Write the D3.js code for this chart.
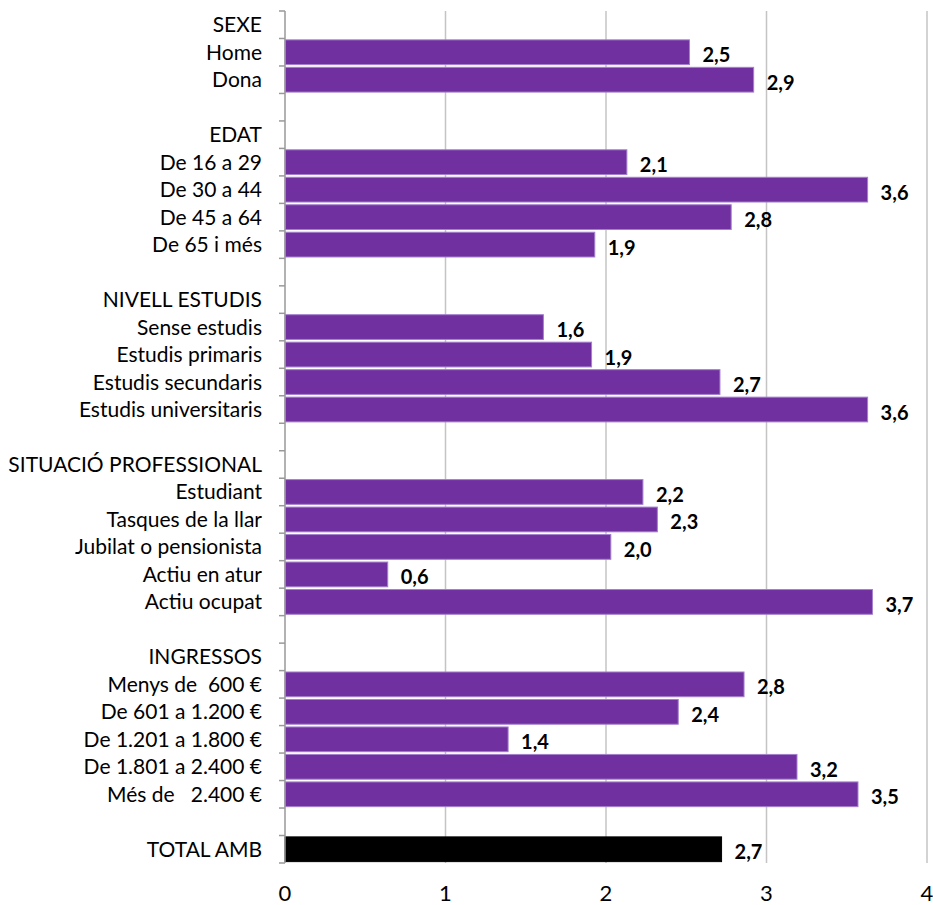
<!DOCTYPE html>
<html><head><meta charset="utf-8">
<script src="https://cdn.jsdelivr.net/npm/d3@7"></script>
<style>
html,body{margin:0;padding:0;background:#fff;}
svg{display:block;}
text{font-family:Lato,"Open Sans",sans-serif;white-space:pre;}
</style></head>
<body>
<svg id="chart" width="933" height="905"></svg>
<script>
const categories = ["SEXE","Home","Dona","","EDAT","De 16 a 29","De 30 a 44","De 45 a 64","De 65 i més","",
 "NIVELL ESTUDIS","Sense estudis","Estudis primaris","Estudis secundaris","Estudis universitaris","",
 "SITUACIÓ PROFESSIONAL","Estudiant","Tasques de la llar","Jubilat o pensionista","Actiu en atur","Actiu ocupat","",
 "INGRESSOS","Menys de  600 €","De 601 a 1.200 €","De 1.201 a 1.800 €","De 1.801 a 2.400 €","Més de   2.400 €","",
 "TOTAL AMB"];
const values = [null,2.52,2.92,null,null,2.13,3.63,2.78,1.93,null,
 null,1.61,1.91,2.71,3.63,null,
 null,2.23,2.32,2.03,0.64,3.66,null,
 null,2.86,2.45,1.39,3.19,3.57,null,
 2.72];
const valueLabels = ["","2,5","2,9","","","2,1","3,6","2,8","1,9","",
 "","1,6","1,9","2,7","3,6","",
 "","2,2","2,3","2,0","0,6","3,7","",
 "","2,8","2,4","1,4","3,2","3,5","",
 "2,7"];
const xTicks = [0,1,2,3,4];
const totalIndex = 30;

(function(){
const svg = d3.select("#chart");
const pL = 285, pR = 927, pT = 11, pB = 863;
const x = d3.scaleLinear().domain([0,4]).range([pL,pR]);
const y = d3.scaleBand().domain(d3.range(categories.length)).range([pT,pB]).paddingInner(0.1).paddingOuter(0.05);

svg.append("g").selectAll("line").data(xTicks.filter(d=>d>0)).join("line")
  .attr("x1",d=>x(d)).attr("x2",d=>x(d)).attr("y1",pT).attr("y2",pB)
  .attr("stroke","#c4c4c4").attr("stroke-width",1.5);

const rows = categories.map((c,i)=>({c,i,v:values[i],l:valueLabels[i]}));
svg.append("g").selectAll("rect").data(rows.filter(d=>d.v!==null)).join("rect")
  .attr("x",x(0)).attr("y",d=>y(d.i)).attr("width",d=>x(d.v)-x(0)).attr("height",y.bandwidth())
  .attr("fill",d=>d.i===totalIndex?"#000":"#7030a0")
  .attr("stroke",d=>d.i===totalIndex?"#000":"#a47fcc").attr("stroke-width",1);

svg.append("g").selectAll("text").data(rows.filter(d=>d.v!==null)).join("text")
  .attr("x",d=>x(d.v)+13).attr("y",d=>y(d.i)+y.bandwidth()/2+10)
  .attr("font-size",20).attr("font-weight","bold").attr("fill","#000").text(d=>d.l);

const bounds = d3.range(categories.length+1).map(i=>pT+i*(pB-pT)/categories.length);
svg.append("line").attr("x1",pL).attr("x2",pL).attr("y1",pT).attr("y2",pB)
  .attr("stroke","#999").attr("stroke-width",1.5);
svg.append("g").selectAll("line").data(bounds).join("line")
  .attr("x1",pL-6).attr("x2",pL).attr("y1",d=>d).attr("y2",d=>d)
  .attr("stroke","#999").attr("stroke-width",1.5);

svg.append("g").selectAll("text").data(rows).join("text")
  .attr("x",262).attr("y",d=>y(d.i)+y.bandwidth()/2+7.5)
  .attr("text-anchor","end").attr("font-size",21).attr("fill","#000").text(d=>d.c);

svg.append("g").selectAll("text").data(xTicks).join("text")
  .attr("x",d=>x(d)).attr("y",901).attr("text-anchor","middle")
  .attr("font-size",22).attr("fill","#000").text(d=>d);
})();
</script>
</body></html>
